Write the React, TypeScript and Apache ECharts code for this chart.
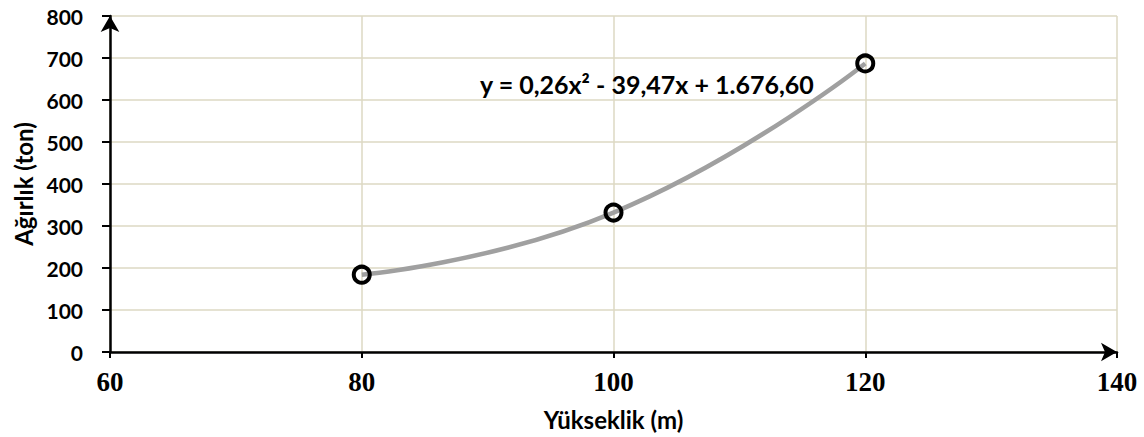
import React, { useEffect, useRef } from "react";
import * as echarts from "echarts";

const heights = [80, 100, 120];
const weights = [184, 332, 687];
const xTicks = { min: 60, max: 140, interval: 20 };
const yTicks = { min: 0, max: 800, interval: 100 };
const equation = "y = 0,26x² - 39,47x + 1.676,60";
const xName = "Yükseklik (m)";
const yName = "Ağırlık (ton)";

export default function App() {
  const ref = useRef<HTMLDivElement>(null);
  useEffect(() => {
    document.body.style.margin = "0";
    const chart = echarts.init(ref.current!, null, { renderer: "svg" });
    const sans = "Lato, Noto Sans, sans-serif";
    const serif = "Liberation Serif, Times New Roman, DejaVu Serif, serif";
    const grid = "#ddd9c3";
    chart.setOption({
      animation: false,
      backgroundColor: "#fff",
      grid: {
        left: 110,
        right: 27,
        top: 16,
        bottom: 85,
        containLabel: false,
        outerBoundsMode: "none",
      },
      xAxis: {
        type: "value",
        min: xTicks.min,
        max: xTicks.max,
        interval: xTicks.interval,
        name: xName,
        nameLocation: "middle",
        nameGap: 55,
        nameTextStyle: { fontFamily: sans, fontWeight: "bold", fontSize: 24, color: "#000" },
        axisLine: {
          show: true,
          onZero: false,
          symbol: ["none", "arrow"],
          symbolSize: [14, 16],
          lineStyle: { color: "#000", width: 2.5 },
        },
        axisTick: { show: true, inside: false, length: 6, lineStyle: { color: "#000", width: 2 } },
        axisLabel: {
          margin: 16,
          fontFamily: serif,
          fontWeight: "bold",
          fontSize: 27,
          color: "#000",
        },
        splitLine: { show: true, lineStyle: { color: grid, width: 1.5 } },
      },
      yAxis: {
        type: "value",
        min: yTicks.min,
        max: yTicks.max,
        interval: yTicks.interval,
        name: yName,
        nameLocation: "middle",
        nameGap: 75,
        nameRotate: 90,
        nameTextStyle: { fontFamily: sans, fontWeight: "bold", fontSize: 24, color: "#000" },
        axisLine: {
          show: true,
          onZero: false,
          symbol: ["none", "arrow"],
          symbolSize: [14, 16],
          lineStyle: { color: "#000", width: 2.5 },
        },
        axisTick: { show: true, inside: false, length: 8, lineStyle: { color: "#000", width: 2 } },
        axisLabel: {
          margin: 27,
          fontFamily: sans,
          fontWeight: "bold",
          fontSize: 21,
          color: "#000",
        },
        splitLine: { show: true, lineStyle: { color: grid, width: 1.5 } },
      },
      graphic: [
        {
          type: "text",
          x: 480,
          y: 84,
          z: 10,
          style: {
            text: equation,
            fontFamily: sans,
            fontWeight: "bold",
            fontSize: 25,
            fill: "#000",
            align: "left",
            verticalAlign: "middle",
          },
        },
      ],
      series: [
        {
          type: "line",
          data: heights.map((h, i) => [h, weights[i]]),
          smooth: true,
          lineStyle: { color: "#a0a0a0", width: 4.5 },
          symbol: "circle",
          symbolSize: 16,
          itemStyle: { color: "rgba(255,255,255,0)", borderColor: "#000", borderWidth: 4 },
          z: 3,
        },
      ],
    });
    return () => chart.dispose();
  }, []);
  return <div ref={ref} style={{ width: 1144, height: 437 }} />;
}
